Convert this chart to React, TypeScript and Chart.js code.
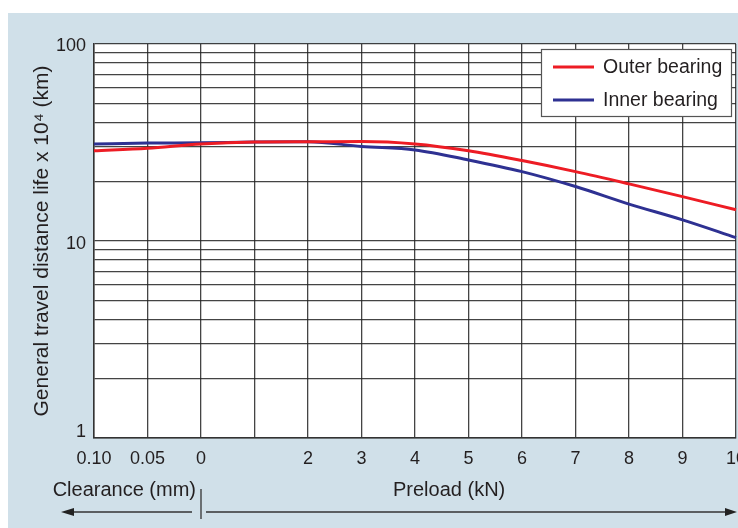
import React, { useEffect, useRef } from 'react';
import { Chart, registerables } from 'chart.js';

Chart.register(...registerables);

const xLabels = ['0.10', '0.05', '0', '', '2', '3', '4', '5', '6', '7', '8', '9', '10'];
const outerBearing = [28.7, 29.6, 31.1, 31.8, 31.9, 32.0, 31.1, 28.7, 25.6, 22.5, 19.5, 16.8, 14.4];
const innerBearing = [31.1, 31.4, 31.5, 31.8, 31.9, 30.2, 29.0, 25.8, 22.5, 18.9, 15.4, 12.8, 10.4];
const yTickValues = [1, 2, 3, 4, 5, 6, 7, 8, 9, 10, 20, 30, 40, 50, 60, 70, 80, 90, 100];
const yLabelValues = [1, 10, 100];
const seriesNames = ['Outer bearing', 'Inner bearing'];
const seriesColors = ['#ed1c24', '#2e3192'];
const yTitle = 'General travel distance life x 10\u2074 (km)';
const clearanceTitle = 'Clearance (mm)';
const preloadTitle = 'Preload (kN)';

const FONT = '"Liberation Sans", Arial, Helvetica, sans-serif';
const TEXT = '#231f20';
const BG = '#d0e0e9';

const decorPlugin = {
  id: 'decor',
  beforeDraw(chart: any) {
    const { ctx, chartArea } = chart;
    ctx.save();
    ctx.fillStyle = '#ffffff';
    ctx.fillRect(chartArea.left, chartArea.top, chartArea.right - chartArea.left, chartArea.bottom - chartArea.top);
    ctx.restore();
  },
  afterDraw(chart: any) {
    const { ctx, chartArea } = chart;
    const xs = chart.scales.x;
    const ys = chart.scales.y;
    ctx.save();
    // y tick labels (1 is lifted to clear the x labels, as in the source)
    ctx.fillStyle = TEXT;
    ctx.font = `18px ${FONT}`;
    ctx.textAlign = 'right';
    ctx.textBaseline = 'middle';
    yLabelValues.forEach((v) => {
      const off = v === 1 ? -6 : v === 10 ? 3 : 2;
      ctx.fillText(String(v), chartArea.left - 8, ys.getPixelForValue(v) + off);
    });

    // y title
    ctx.font = `21px ${FONT}`;
    ctx.textAlign = 'center';
    ctx.translate(34, (chartArea.top + chartArea.bottom) / 2);
    ctx.rotate(-Math.PI / 2);
    ctx.fillText(yTitle, 0, 0);
    ctx.restore();

    ctx.save();
    const divX = xs.getPixelForValue(2);
    ctx.fillStyle = TEXT;
    ctx.font = `20px ${FONT}`;
    ctx.textBaseline = 'middle';
    ctx.textAlign = 'right';
    ctx.fillText(clearanceTitle, divX - 5, 477);
    ctx.textAlign = 'left';
    ctx.fillText(preloadTitle, 385, 477);

    // arrows
    const ay = 499;
    ctx.strokeStyle = '#333';
    ctx.fillStyle = '#222';
    ctx.lineWidth = 1.3;
    ctx.beginPath();
    ctx.moveTo(divX, 476);
    ctx.lineTo(divX, 506);
    ctx.stroke();
    ctx.beginPath();
    ctx.moveTo(divX - 9, ay);
    ctx.lineTo(62, ay);
    ctx.stroke();
    ctx.beginPath();
    ctx.moveTo(53, ay);
    ctx.lineTo(66, ay - 4);
    ctx.lineTo(66, ay + 4);
    ctx.closePath();
    ctx.fill();
    ctx.beginPath();
    ctx.moveTo(divX + 5, ay);
    ctx.lineTo(720, ay);
    ctx.stroke();
    ctx.beginPath();
    ctx.moveTo(729, ay);
    ctx.lineTo(717, ay - 4);
    ctx.lineTo(717, ay + 4);
    ctx.closePath();
    ctx.fill();

    // legend
    const bx = 533, by = 36, bw = 190, bh = 67;
    ctx.fillStyle = '#ffffff';
    ctx.fillRect(bx, by, bw, bh);
    ctx.strokeStyle = '#555';
    ctx.lineWidth = 1.2;
    ctx.strokeRect(bx + 0.5, by + 0.5, bw, bh);
    const rows = [54, 87];
    seriesNames.forEach((name, i) => {
      ctx.strokeStyle = seriesColors[i];
      ctx.lineWidth = 3;
      ctx.beginPath();
      ctx.moveTo(545, rows[i]);
      ctx.lineTo(586, rows[i]);
      ctx.stroke();
      ctx.fillStyle = TEXT;
      ctx.font = `19.5px ${FONT}`;
      ctx.textAlign = 'left';
      ctx.textBaseline = 'middle';
      ctx.fillText(name, 595, rows[i] + 1);
    });
    ctx.restore();
  },
};

export default function App() {
  const ref = useRef<HTMLCanvasElement | null>(null);
  useEffect(() => {
    if (!ref.current) return;
    const chart = new Chart(ref.current, {
      type: 'line',
      data: {
        labels: xLabels,
        datasets: [
          {
            label: seriesNames[0],
            data: outerBearing,
            borderColor: seriesColors[0],
            borderWidth: 3,
            pointRadius: 0,
            cubicInterpolationMode: 'monotone',
            fill: false,
          },
          {
            label: seriesNames[1],
            data: innerBearing,
            borderColor: seriesColors[1],
            borderWidth: 3,
            pointRadius: 0,
            cubicInterpolationMode: 'monotone',
            fill: false,
          },
        ],
      },
      options: {
        animation: false,
        responsive: false,
        devicePixelRatio: 1,
        layout: { padding: { top: 31, right: 32, left: 0, bottom: 0 } },
        plugins: { legend: { display: false }, tooltip: { enabled: false } },
        scales: {
          x: {
            type: 'category',
            offset: false,
            afterFit: (s: any) => { s.height = 90; },
            grid: { color: 'rgba(35,35,35,0.85)', lineWidth: 1.3, drawTicks: false },
            border: { display: true, color: '#333', width: 1.5 },
            ticks: {
              autoSkip: false,
              maxRotation: 0,
              padding: 10,
              color: TEXT,
              font: { family: FONT, size: 18 },
            },
          },
          y: {
            type: 'logarithmic',
            min: 1,
            max: 100,
            afterFit: (s: any) => { s.width = 86; },
            afterBuildTicks: (s: any) => { s.ticks = yTickValues.map((v) => ({ value: v, major: yLabelValues.includes(v) })); },
            grid: { color: 'rgba(35,35,35,0.85)', lineWidth: 1.3, drawTicks: false },
            border: { display: true, color: '#333', width: 1.5 },
            ticks: {
              autoSkip: false,
              padding: 9,
              color: 'rgba(0,0,0,0)',
              font: { family: FONT, size: 18 },
              callback: () => '',
            },
          },
        },
      },
      plugins: [decorPlugin],
    });
    return () => chart.destroy();
  }, []);
  return (
    <div
      style={{
        position: 'absolute',
        left: 8,
        top: 13,
        width: 730,
        height: 515,
        overflow: 'hidden',
        background: BG,
      }}
    >
      <canvas ref={ref} width={760} height={515} style={{ width: 760, height: 515, display: 'block' }} />
    </div>
  );
}
